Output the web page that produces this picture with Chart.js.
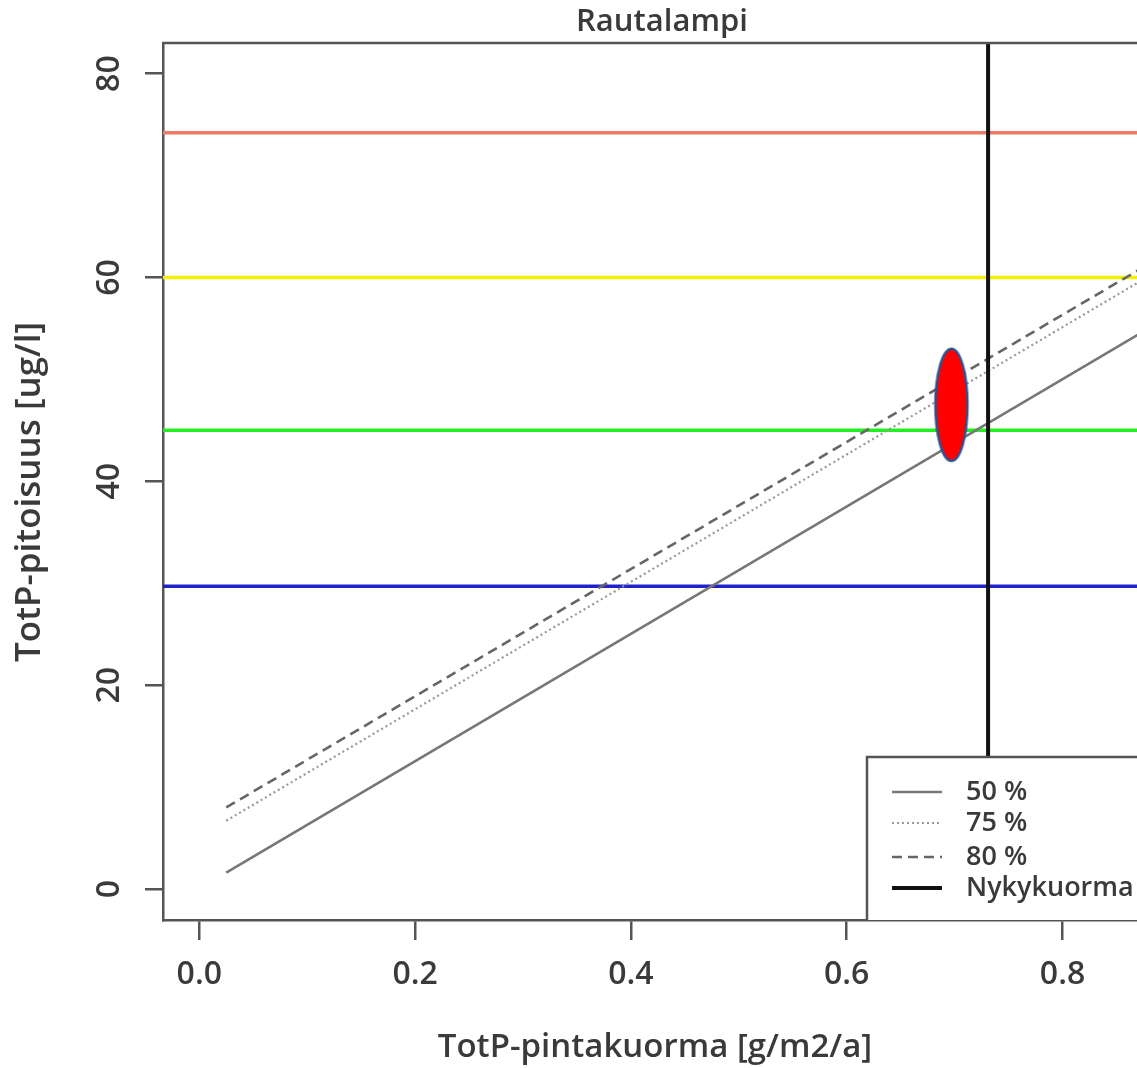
<!DOCTYPE html>
<html>
<head>
<meta charset="utf-8">
<title>Rautalampi</title>
<script src="https://cdn.jsdelivr.net/npm/chart.js@4.4.1/dist/chart.umd.min.js"></script>
<style>
  html, body { margin: 0; padding: 0; background: #fff; overflow: hidden; }
  canvas { display: block; }
</style>
</head>
<body>
<canvas id="chart" width="1137" height="1068"></canvas>
<script>
// Data

// x ends of the response lines (TotP-pintakuorma, g/m2/a)
const loadX = [0.025, 0.87];
// TotP concentration at those ends, ug/l
const conc50 = [1.6, 54.4];
const conc75 = [6.7, 59.5];
const conc80 = [8.0, 60.7];

// horizontal class limits
const limitValues = [74.2, 60, 45, 29.7];
const limitColors = ['#ef7a64', '#f2f200', '#22ee22', '#2222cc'];

// current load (vertical line) and the red marker
const currentLoad = 0.731;
const markerX = [0.697];
const markerY = [47.5];

const xTicks = [0, 0.2, 0.4, 0.6, 0.8];
const yTicks = [0, 20, 40, 60, 80];
const legendLabels = ['50 %', '75 %', '80 %', 'Nykykuorma'];

const X_MIN = -0.0336, X_MAX = 0.869;
const Y_MIN = -3.04, Y_MAX = 83.0;
const AXIS_COL = '#555';
const TEXT_COL = '#3a3a3a';
const FONT = '"Open Sans", "DejaVu Sans", sans-serif';

// red ellipse as a point style
const ellipse = document.createElement('canvas');
ellipse.width = 38;
ellipse.height = 118;
(function () {
    const c = ellipse.getContext('2d');
    c.beginPath();
    c.ellipse(19, 59, 16, 56, 0, 0, Math.PI * 2);
    c.fillStyle = '#ff0000';
    c.fill();
    c.lineWidth = 2.5;
    c.strokeStyle = '#2f528f';
    c.stroke();
})();

const lineStyles = [
    { color: '#777777', width: 2.6, dash: [] },
    { color: '#999999', width: 2.2, dash: [2, 3] },
    { color: '#666666', width: 2.6, dash: [10, 6] },
    { color: '#111111', width: 4, dash: [] }
];

function pts(xs, ys) {
    return xs.map((x, i) => ({ x: x, y: ys[i] }));
}

const datasets = [];
datasets.push({
    label: 'marker',
    data: pts(markerX, markerY),
    showLine: false,
    pointStyle: ellipse,
    pointRadius: 20
});
datasets.push({
    label: 'Nykykuorma',
    data: [{ x: currentLoad, y: Y_MIN }, { x: currentLoad, y: Y_MAX }],
    borderColor: lineStyles[3].color,
    borderWidth: lineStyles[3].width
});
[conc80, conc75, conc50].forEach((c, k) => {
    const st = lineStyles[2 - k];
    datasets.push({
        label: ['80 %', '75 %', '50 %'][k],
        data: pts(loadX, c),
        borderColor: st.color,
        borderWidth: st.width,
        borderDash: st.dash
    });
});
limitValues.forEach((v, i) => {
    datasets.push({
        label: 'raja ' + v,
        data: [{ x: X_MIN, y: v }, { x: X_MAX, y: v }],
        borderColor: limitColors[i],
        borderWidth: 3.5
    });
});
datasets.forEach(d => {
    d.showLine = d.showLine !== false;
    if (d.label !== 'marker') d.pointRadius = 0;
    d.clip = 0;
});

// texts, box top, legend
const decor = {
    id: 'decor',
    afterDatasetsDraw(chart) {
        const ctx = chart.ctx;
        const a = chart.chartArea;
        const xs = chart.scales.x, ys = chart.scales.y;
        ctx.save();

        // top edge of the box
        ctx.strokeStyle = AXIS_COL;
        ctx.lineWidth = 2.5;
        ctx.beginPath();
        ctx.moveTo(a.left - 1, a.top);
        ctx.lineTo(a.right + 2, a.top);
        ctx.stroke();

        // legend
        const lx = a.right - 270, ly = a.bottom - 163;
        ctx.fillStyle = '#fff';
        ctx.fillRect(lx, ly, 400, 163);
        ctx.beginPath();
        ctx.moveTo(a.right + 5, ly);
        ctx.lineTo(lx, ly);
        ctx.lineTo(lx, a.bottom);
        ctx.stroke();
        const rows = [ly + 35, ly + 66, ly + 100, ly + 131];
        ctx.font = '600 27px ' + FONT;
        ctx.textBaseline = 'middle';
        ctx.textAlign = 'left';
        legendLabels.forEach((lab, i) => {
            const st = lineStyles[i];
            ctx.strokeStyle = st.color;
            ctx.lineWidth = st.width;
            ctx.setLineDash(st.dash);
            ctx.beginPath();
            ctx.moveTo(lx + 25, rows[i]);
            ctx.lineTo(lx + 75, rows[i]);
            ctx.stroke();
            ctx.setLineDash([]);
            ctx.fillStyle = TEXT_COL;
            ctx.fillText(lab, lx + 99, rows[i]);
        });

        // tick labels
        ctx.fillStyle = TEXT_COL;
        ctx.font = '600 32px ' + FONT;
        ctx.textAlign = 'center';
        ctx.textBaseline = 'middle';
        xTicks.forEach(v => {
            ctx.fillText(v.toFixed(1), xs.getPixelForValue(v), a.bottom + 55);
        });
        yTicks.forEach(v => {
            ctx.save();
            ctx.translate(a.left - 53, ys.getPixelForValue(v));
            ctx.rotate(-Math.PI / 2);
            ctx.fillText(String(v), 0, 0);
            ctx.restore();
        });

        // titles
        ctx.font = '600 31px ' + FONT;
        ctx.fillText('Rautalampi', 662, 22);
        ctx.font = '600 33px ' + FONT;
        ctx.fillText('TotP-pintakuorma [g/m2/a]', 655, 1048);
        ctx.save();
        ctx.translate(30, 492);
        ctx.rotate(-Math.PI / 2);
        ctx.font = '600 35px ' + FONT;
        ctx.fillText('TotP-pitoisuus [ug/l]', 0, 0);
        ctx.restore();

        ctx.restore();
    }
};

new Chart(document.getElementById('chart'), {
    type: 'scatter',
    data: { datasets: datasets },
    options: {
        responsive: false,
        animation: false,
        devicePixelRatio: 1,
        layout: { autoPadding: false, padding: { top: 43, left: 0, right: 0, bottom: 0 } },
        plugins: { legend: { display: false }, tooltip: { enabled: false } },
        scales: {
            x: {
                type: 'linear',
                min: X_MIN,
                max: X_MAX,
                afterBuildTicks: s => { s.ticks = xTicks.map(v => ({ value: v })); },
                afterFit: s => { s.height = 148; },
                ticks: { display: false },
                grid: { drawOnChartArea: false, drawTicks: true, tickLength: 20, color: AXIS_COL, lineWidth: 2.5 },
                border: { display: true, color: AXIS_COL, width: 2.5 }
            },
            y: {
                type: 'linear',
                min: Y_MIN,
                max: Y_MAX,
                afterBuildTicks: s => { s.ticks = yTicks.map(v => ({ value: v })); },
                afterFit: s => { s.width = 163; },
                ticks: { display: false },
                grid: { drawOnChartArea: false, drawTicks: true, tickLength: 18, color: AXIS_COL, lineWidth: 2.5 },
                border: { display: true, color: AXIS_COL, width: 2.5 }
            }
        }
    },
    plugins: [decor]
});
</script>
</body>
</html>
